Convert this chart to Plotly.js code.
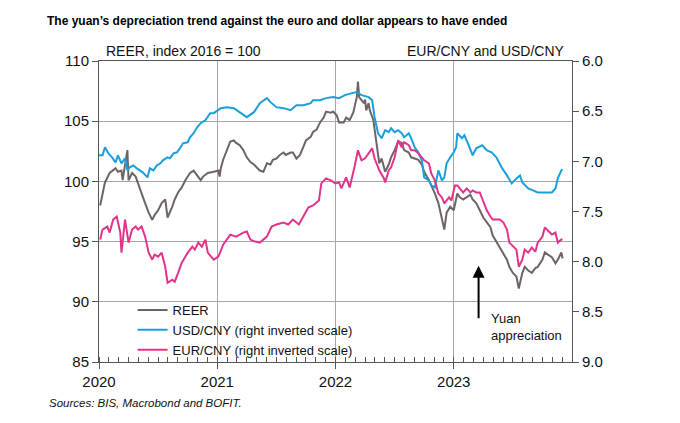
<!DOCTYPE html>
<html>
<head>
<meta charset="utf-8">
<script src="https://cdn.plot.ly/plotly-3.0.1.min.js"></script>
<style>html,body{margin:0;padding:0;background:#fff;}#chart{width:680px;height:423px;}</style>
</head>
<body>
<div id="chart"></div>
<script>
// Decimal-year positions and values
const reerX = [2020.01,2020.05,2020.09,2020.14,2020.16,2020.19,2020.20,2020.24,2020.25,2020.28,2020.31,2020.33,2020.36,2020.39,2020.42,2020.45,2020.47,2020.50,2020.53,2020.56,2020.58,2020.62,2020.64,2020.67,2020.70,2020.73,2020.77,2020.80,2020.83,2020.86,2020.88,2020.92,2020.97,2021.01,2021.02,2021.03,2021.05,2021.08,2021.11,2021.14,2021.16,2021.19,2021.22,2021.25,2021.28,2021.31,2021.33,2021.36,2021.39,2021.42,2021.45,2021.47,2021.50,2021.53,2021.56,2021.58,2021.62,2021.64,2021.67,2021.70,2021.73,2021.75,2021.79,2021.81,2021.84,2021.87,2021.90,2021.92,2021.96,2021.98,2022.01,2022.03,2022.07,2022.09,2022.12,2022.15,2022.18,2022.19,2022.20,2022.24,2022.25,2022.26,2022.28,2022.29,2022.32,2022.33,2022.35,2022.36,2022.37,2022.39,2022.41,2022.42,2022.45,2022.47,2022.50,2022.53,2022.56,2022.58,2022.62,2022.64,2022.67,2022.70,2022.73,2022.75,2022.79,2022.81,2022.84,2022.87,2022.90,2022.92,2022.94,2022.97,2023.00,2023.03,2023.05,2023.08,2023.11,2023.14,2023.16,2023.19,2023.22,2023.25,2023.28,2023.31,2023.33,2023.36,2023.39,2023.42,2023.45,2023.47,2023.50,2023.53,2023.55,2023.58,2023.60,2023.63,2023.66,2023.69,2023.71,2023.75,2023.77,2023.80,2023.83,2023.86,2023.88,2023.91,2023.92];
const reerY = [98.0,99.9,100.7,101.1,100.8,100.9,100.1,102.6,100.1,100.7,100.4,99.9,99.0,98.2,97.4,96.8,97.2,97.6,98.2,98.5,97.0,97.9,98.5,99.1,99.5,100.1,100.7,100.9,100.5,100.1,100.4,100.7,100.8,100.9,100.4,101.1,101.8,102.6,103.3,103.4,103.2,103.0,102.6,102.0,101.6,101.4,101.2,100.9,100.8,101.5,101.4,101.8,101.9,102.2,102.4,102.2,102.4,102.4,101.9,102.2,102.9,103.4,103.7,104.1,104.3,104.9,105.3,105.8,105.7,105.8,105.5,104.9,104.9,105.3,105.1,105.7,107.0,108.3,107.0,106.5,106.8,105.9,106.5,105.9,105.1,104.3,103.2,102.0,101.5,101.9,101.2,100.8,101.4,102.0,102.6,103.3,103.2,102.6,102.4,102.0,101.9,101.8,101.4,100.8,100.1,99.7,99.0,98.2,97.0,96.0,97.4,97.9,97.6,99.0,98.7,98.5,98.7,98.9,98.5,98.2,97.6,97.0,96.6,96.2,95.5,95.0,94.6,94.1,93.5,92.9,92.4,92.1,91.1,92.4,92.9,92.6,92.4,92.8,92.9,93.5,94.1,93.9,93.7,93.2,93.5,94.1,93.6];

const usdX = [2020.00,2020.03,2020.05,2020.08,2020.11,2020.14,2020.16,2020.19,2020.22,2020.24,2020.26,2020.29,2020.32,2020.35,2020.37,2020.41,2020.43,2020.46,2020.49,2020.52,2020.54,2020.58,2020.60,2020.63,2020.66,2020.69,2020.71,2020.75,2020.77,2020.80,2020.83,2020.86,2020.90,2020.94,2020.97,2021.03,2021.08,2021.14,2021.19,2021.25,2021.31,2021.36,2021.42,2021.45,2021.50,2021.56,2021.62,2021.67,2021.73,2021.79,2021.81,2021.87,2021.92,2021.98,2022.03,2022.08,2022.14,2022.18,2022.22,2022.28,2022.31,2022.33,2022.36,2022.39,2022.42,2022.45,2022.47,2022.50,2022.53,2022.56,2022.58,2022.62,2022.64,2022.67,2022.70,2022.73,2022.75,2022.79,2022.81,2022.84,2022.87,2022.90,2022.92,2022.94,2022.97,2023.00,2023.02,2023.03,2023.07,2023.09,2023.12,2023.16,2023.19,2023.24,2023.28,2023.32,2023.36,2023.41,2023.45,2023.49,2023.53,2023.56,2023.58,2023.63,2023.67,2023.71,2023.77,2023.83,2023.86,2023.88,2023.91,2023.92];
const usdY = [6.94,6.94,6.86,6.92,6.96,7.01,6.94,7.02,6.97,7.09,7.06,7.04,7.07,7.09,7.11,7.16,7.07,7.09,7.04,7.02,6.99,6.96,6.97,6.92,6.91,6.86,6.82,6.81,6.76,6.72,6.66,6.62,6.59,6.52,6.52,6.47,6.46,6.47,6.51,6.56,6.51,6.42,6.37,6.41,6.46,6.47,6.49,6.44,6.44,6.42,6.39,6.39,6.37,6.36,6.37,6.34,6.32,6.31,6.34,6.36,6.39,6.56,6.72,6.77,6.69,6.71,6.67,6.71,6.69,6.72,6.76,6.72,6.77,6.86,6.91,6.99,7.16,7.19,7.24,7.26,7.09,7.19,7.16,7.02,6.96,6.91,6.86,6.72,6.77,6.74,6.82,6.94,6.87,6.84,6.89,6.91,6.96,7.07,7.14,7.22,7.17,7.14,7.21,7.27,7.29,7.31,7.31,7.31,7.27,7.17,7.09,7.08];

const eurX = [2020.01,2020.03,2020.07,2020.09,2020.12,2020.15,2020.18,2020.19,2020.22,2020.25,2020.28,2020.31,2020.33,2020.36,2020.39,2020.42,2020.45,2020.47,2020.50,2020.53,2020.56,2020.58,2020.62,2020.64,2020.67,2020.70,2020.73,2020.75,2020.79,2020.81,2020.84,2020.87,2020.90,2020.92,2020.97,2021.01,2021.05,2021.11,2021.16,2021.22,2021.25,2021.28,2021.32,2021.36,2021.42,2021.46,2021.50,2021.56,2021.60,2021.64,2021.69,2021.73,2021.77,2021.81,2021.86,2021.88,2021.92,2021.96,2022.00,2022.03,2022.05,2022.09,2022.12,2022.16,2022.19,2022.22,2022.25,2022.28,2022.31,2022.33,2022.37,2022.41,2022.42,2022.45,2022.47,2022.50,2022.53,2022.56,2022.58,2022.62,2022.64,2022.67,2022.70,2022.73,2022.75,2022.79,2022.81,2022.84,2022.87,2022.90,2022.92,2022.96,2022.98,2023.01,2023.03,2023.05,2023.08,2023.11,2023.14,2023.16,2023.19,2023.22,2023.25,2023.28,2023.31,2023.33,2023.36,2023.39,2023.42,2023.45,2023.47,2023.50,2023.53,2023.55,2023.58,2023.60,2023.63,2023.66,2023.69,2023.71,2023.75,2023.77,2023.80,2023.83,2023.86,2023.88,2023.91,2023.92];
const eurY = [7.78,7.68,7.65,7.71,7.58,7.55,7.71,7.91,7.58,7.81,7.68,7.65,7.68,7.65,7.75,7.91,7.98,7.93,7.95,7.91,8.05,8.21,8.18,8.20,8.11,8.01,7.95,7.91,7.85,7.88,7.81,7.85,7.78,7.91,7.98,7.95,7.83,7.73,7.75,7.71,7.70,7.78,7.80,7.81,7.75,7.65,7.63,7.61,7.63,7.58,7.63,7.55,7.46,7.44,7.39,7.22,7.17,7.19,7.22,7.21,7.27,7.16,7.26,7.06,6.89,6.99,6.97,6.92,6.87,6.97,7.09,7.17,7.21,7.09,7.06,6.96,6.79,6.86,6.81,6.84,6.89,6.89,6.92,6.96,6.99,7.02,7.12,7.19,7.32,7.36,7.42,7.36,7.39,7.24,7.24,7.27,7.31,7.27,7.31,7.29,7.31,7.31,7.41,7.49,7.55,7.58,7.58,7.58,7.61,7.68,7.81,7.85,7.88,8.05,7.98,7.88,7.91,7.86,7.90,7.81,7.75,7.66,7.70,7.73,7.71,7.81,7.78,7.78];

const yearTicks = [2020, 2021, 2022, 2023];
const yearLabels = ['2020', '2021', '2022', '2023'];
const seriesNames = ['REER', 'USD/CNY (right inverted scale)', 'EUR/CNY (right inverted scale)'];

const FONT = 'Liberation Sans, Arial, sans-serif';
const traces = [
  {x: reerX, y: reerY, name: seriesNames[0], type: 'scatter', mode: 'lines', yaxis: 'y',
   line: {color: '#6e6468', width: 2}},
  {x: usdX, y: usdY, name: seriesNames[1], type: 'scatter', mode: 'lines', yaxis: 'y2',
   line: {color: '#1a9fdc', width: 2}},
  {x: eurX, y: eurY, name: seriesNames[2], type: 'scatter', mode: 'lines', yaxis: 'y2',
   line: {color: '#e2338a', width: 2}}
];

const layout = {
  width: 680, height: 423,
  margin: {l: 99, r: 108, t: 61, b: 61},
  paper_bgcolor: '#fff', plot_bgcolor: '#fff',
  font: {family: FONT, color: '#111', size: 14},
  title: {text: 'The yuan\u2019s depreciation trend against the euro and dollar appears to have ended',
    font: {family: 'Liberation Sans Narrow, Arial Narrow, Liberation Sans, sans-serif', size: 12, weight: 'bold', color: '#000'},
    xref: 'container', yref: 'container', x: 47/680, xanchor: 'left', y: 1 - 21/423, yanchor: 'middle'},
  showlegend: true,
  legend: {x: 0.071, y: 0.2226, xanchor: 'left', yanchor: 'top', bgcolor: 'rgba(0,0,0,0)',
    font: {family: FONT, size: 13, color: '#111'}, tracegroupgap: 0, itemwidth: 30},
  xaxis: {type: 'linear', range: [2020, 2024], tickvals: yearTicks, ticktext: yearLabels,
    ticks: 'outside', ticklen: 6, tickcolor: '#555', showline: true, linecolor: '#555', linewidth: 1,
    mirror: true, showgrid: true, gridcolor: '#a6a6a6', gridwidth: 1, zeroline: false,
    tickfont: {size: 15, family: FONT, color: '#111'},
    minor: {dtick: 1/12, tick0: 2020, ticks: 'inside', ticklen: 5, tickcolor: '#555', showgrid: false}},
  yaxis: {range: [85, 110], dtick: 5, ticks: 'outside', ticklen: 6, tickcolor: '#555',
    showline: true, linecolor: '#555', showgrid: true, gridcolor: '#a6a6a6', zeroline: false,
    tickfont: {size: 15, family: FONT, color: '#111'}},
  yaxis2: {range: [9, 6], dtick: 0.5, tickformat: '.1f', overlaying: 'y', side: 'right',
    ticks: 'outside', ticklen: 6, tickcolor: '#555', showline: true, linecolor: '#555',
    showgrid: false, zeroline: false, tickfont: {size: 15, family: FONT, color: '#111'}},
  annotations: [
    {text: 'REER, index 2016 = 100', xref: 'paper', yref: 'paper', x: 0.011, y: 1.0, xanchor: 'left', yanchor: 'bottom',
     showarrow: false, font: {size: 14, family: FONT, color: '#111'}},
    {text: 'EUR/CNY and USD/CNY', xref: 'paper', yref: 'paper', x: 0.99, y: 1.0, xanchor: 'right', yanchor: 'bottom',
     showarrow: false, font: {size: 14, family: FONT, color: '#111'}},
    {text: '', xref: 'x', yref: 'y', x: 2023.21, y: 93.0, ax: 0, ay: 54, showarrow: true,
     arrowhead: 2, arrowsize: 1.2, arrowwidth: 2, arrowcolor: '#000'},
    {text: 'Yuan<br>appreciation', xref: 'x', yref: 'y', x: 2023.30, y: 87.9, xanchor: 'left', yanchor: 'middle',
     align: 'left', showarrow: false, font: {size: 13, family: FONT, color: '#111'}},
    {text: '<i>Sources: BIS, Macrobond and BOFIT.</i>', xref: 'paper', yref: 'paper', x: -0.11, y: -0.136,
     xanchor: 'left', yanchor: 'middle', showarrow: false, font: {size: 11.5, family: FONT, color: '#111'}}
  ]
};

Plotly.newPlot('chart', traces, layout, {displayModeBar: false, staticPlot: true});
</script>
</body>
</html>
